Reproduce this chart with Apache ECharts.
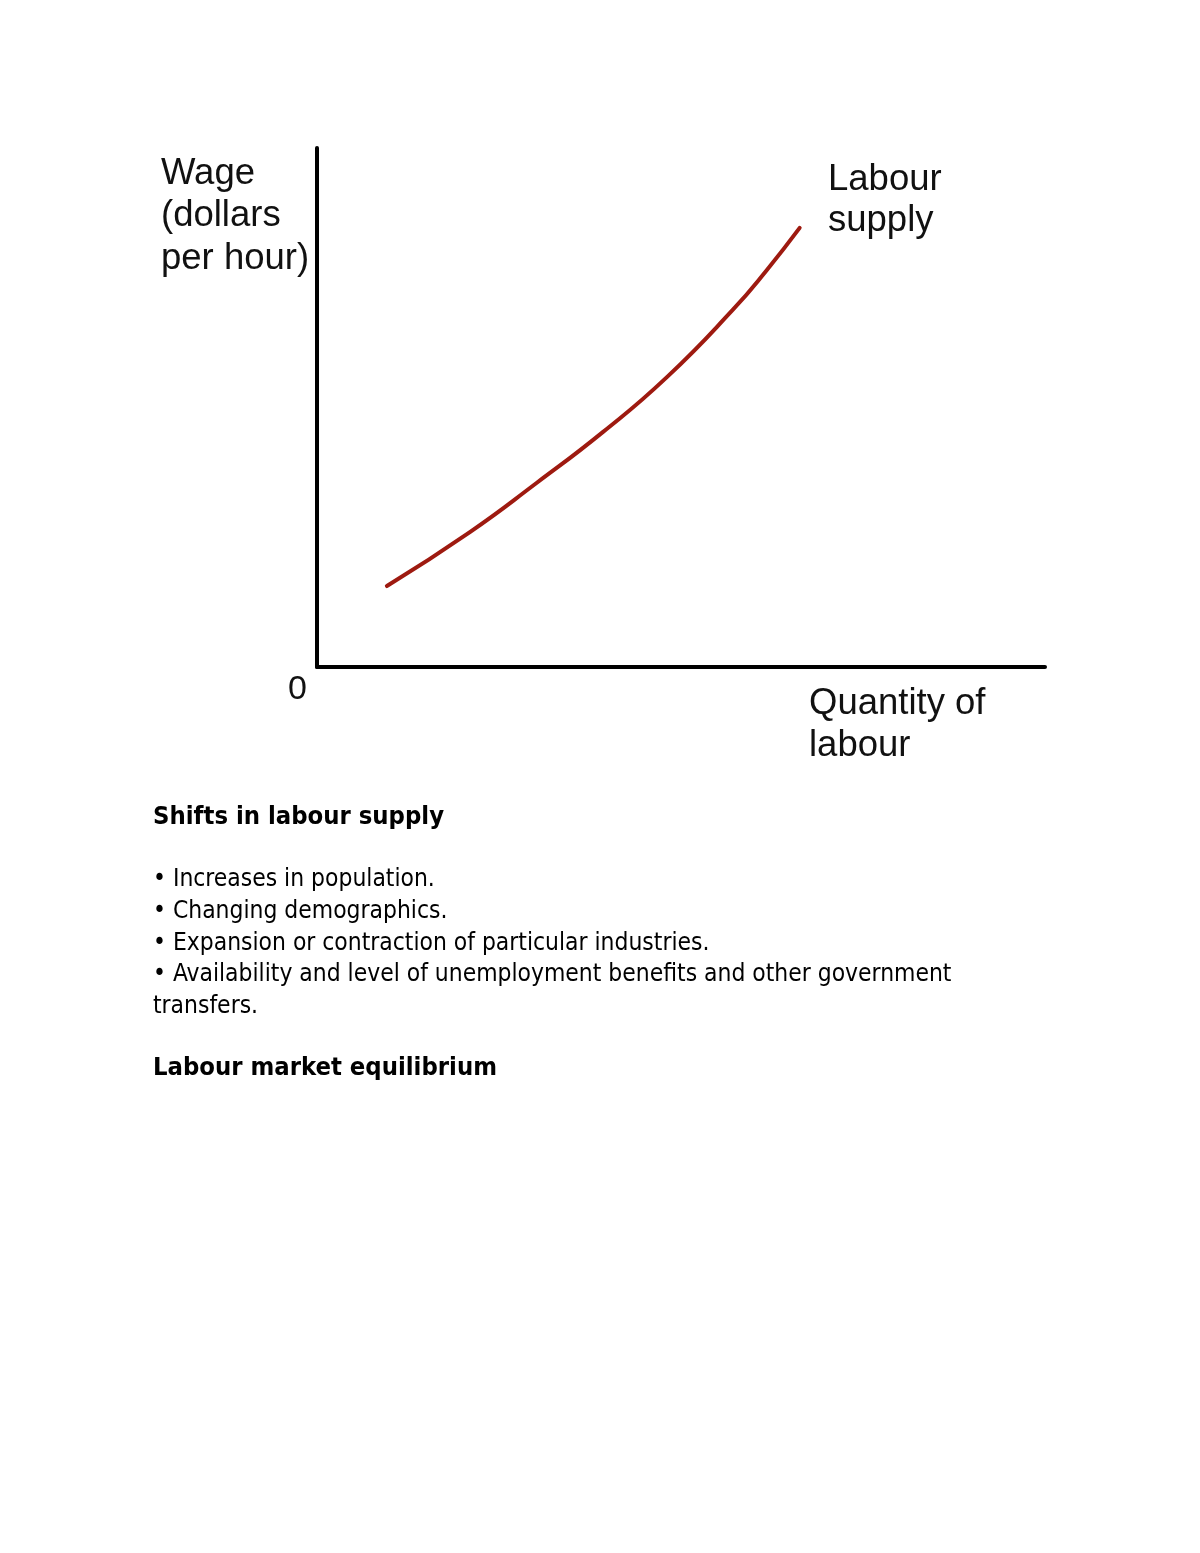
<!DOCTYPE html>
<html>
<head>
<meta charset="utf-8">
<script src="https://cdn.jsdelivr.net/npm/echarts@6/dist/echarts.min.js"></script>
<style>
html, body { margin: 0; padding: 0; background: #fff; }
#main { width: 1200px; height: 1553px; }
</style>
</head>
<body>
<div id="main"></div>
<script>
// labour supply curve (x = quantity, y = wage, both 0-100)
var supplyQty = [9.6, 21.0, 30.2, 39.3, 48.1, 57.1, 61.8, 66.3];
var supplyWage = [15.6, 26.0, 35.5, 45.3, 55.9, 68.8, 76.5, 84.6];

var yAxisTitle = ['Wage', '(dollars', 'per hour)'];
var curveLabel = ['Labour', 'supply'];
var xAxisTitle = ['Quantity of', 'labour'];

var heading1 = 'Shifts in labour supply';
var bullets = [
    '\u2022 Increases in population.',
    '\u2022 Changing demographics.',
    '\u2022 Expansion or contraction of particular industries.',
    '\u2022 Availability and level of unemployment benefits and other government',
    'transfers.'
];
var heading2 = 'Labour market equilibrium';

var myChart = echarts.init(document.getElementById('main'));

var supplyData = [];
for (var i = 0; i < supplyQty.length; i++) {
    supplyData.push([supplyQty[i], supplyWage[i]]);
}

var chartFont = 'Liberation Sans';
var pageFont = 'DejaVu Sans Condensed';

var graphics = [];
// chart labels
yAxisTitle.forEach(function (t, i) {
    graphics.push({ type: 'text', left: 161, top: 173 + i * 42.5 - 18, style: { text: t, fontFamily: chartFont, fontSize: 36.5, fill: '#111' } });
});
curveLabel.forEach(function (t, i) {
    graphics.push({ type: 'text', left: 828, top: 179 + i * 41.5 - 18, style: { text: t, fontFamily: chartFont, fontSize: 36.5, fill: '#111' } });
});
xAxisTitle.forEach(function (t, i) {
    graphics.push({ type: 'text', left: 809, top: 703 + i * 42 - 18, style: { text: t, fontFamily: chartFont, fontSize: 36.5, fill: '#111' } });
});
graphics.push({ type: 'text', left: 288, top: 690 - 17, style: { text: '0', fontFamily: chartFont, fontSize: 34, fill: '#111' } });

// page text below the chart
graphics.push({ type: 'text', left: 153, top: 818 - 13, style: { text: heading1, fontFamily: pageFont, fontSize: 25.4, fontWeight: 'bold', fill: '#000' } });
bullets.forEach(function (t, i) {
    graphics.push({ type: 'text', left: 153, top: 881 + i * 31.7 - 13, style: { text: t, fontFamily: pageFont, fontSize: 24.4, fill: '#000' } });
});
graphics.push({ type: 'text', left: 153, top: 1069 - 13, style: { text: heading2, fontFamily: pageFont, fontSize: 25.4, fontWeight: 'bold', fill: '#000' } });

option = {
    backgroundColor: '#fff',
    animation: false,
    grid: { left: 317, right: 155, top: 148, bottom: 886 },
    xAxis: {
        type: 'value',
        min: 0,
        max: 100,
        axisLine: { show: true, onZero: false, lineStyle: { color: '#000', width: 4 } },
        axisTick: { show: false },
        axisLabel: { show: false },
        splitLine: { show: false }
    },
    yAxis: {
        type: 'value',
        min: 0,
        max: 100,
        axisLine: { show: true, onZero: false, lineStyle: { color: '#000', width: 4 } },
        axisTick: { show: false },
        axisLabel: { show: false },
        splitLine: { show: false }
    },
    series: [
        {
            name: 'Labour supply',
            type: 'line',
            smooth: true,
            symbol: 'none',
            data: supplyData,
            lineStyle: { color: '#9e1a10', width: 4, cap: 'round' }
        }
    ],
    graphic: graphics
};
myChart.setOption(option);
</script>
</body>
</html>
